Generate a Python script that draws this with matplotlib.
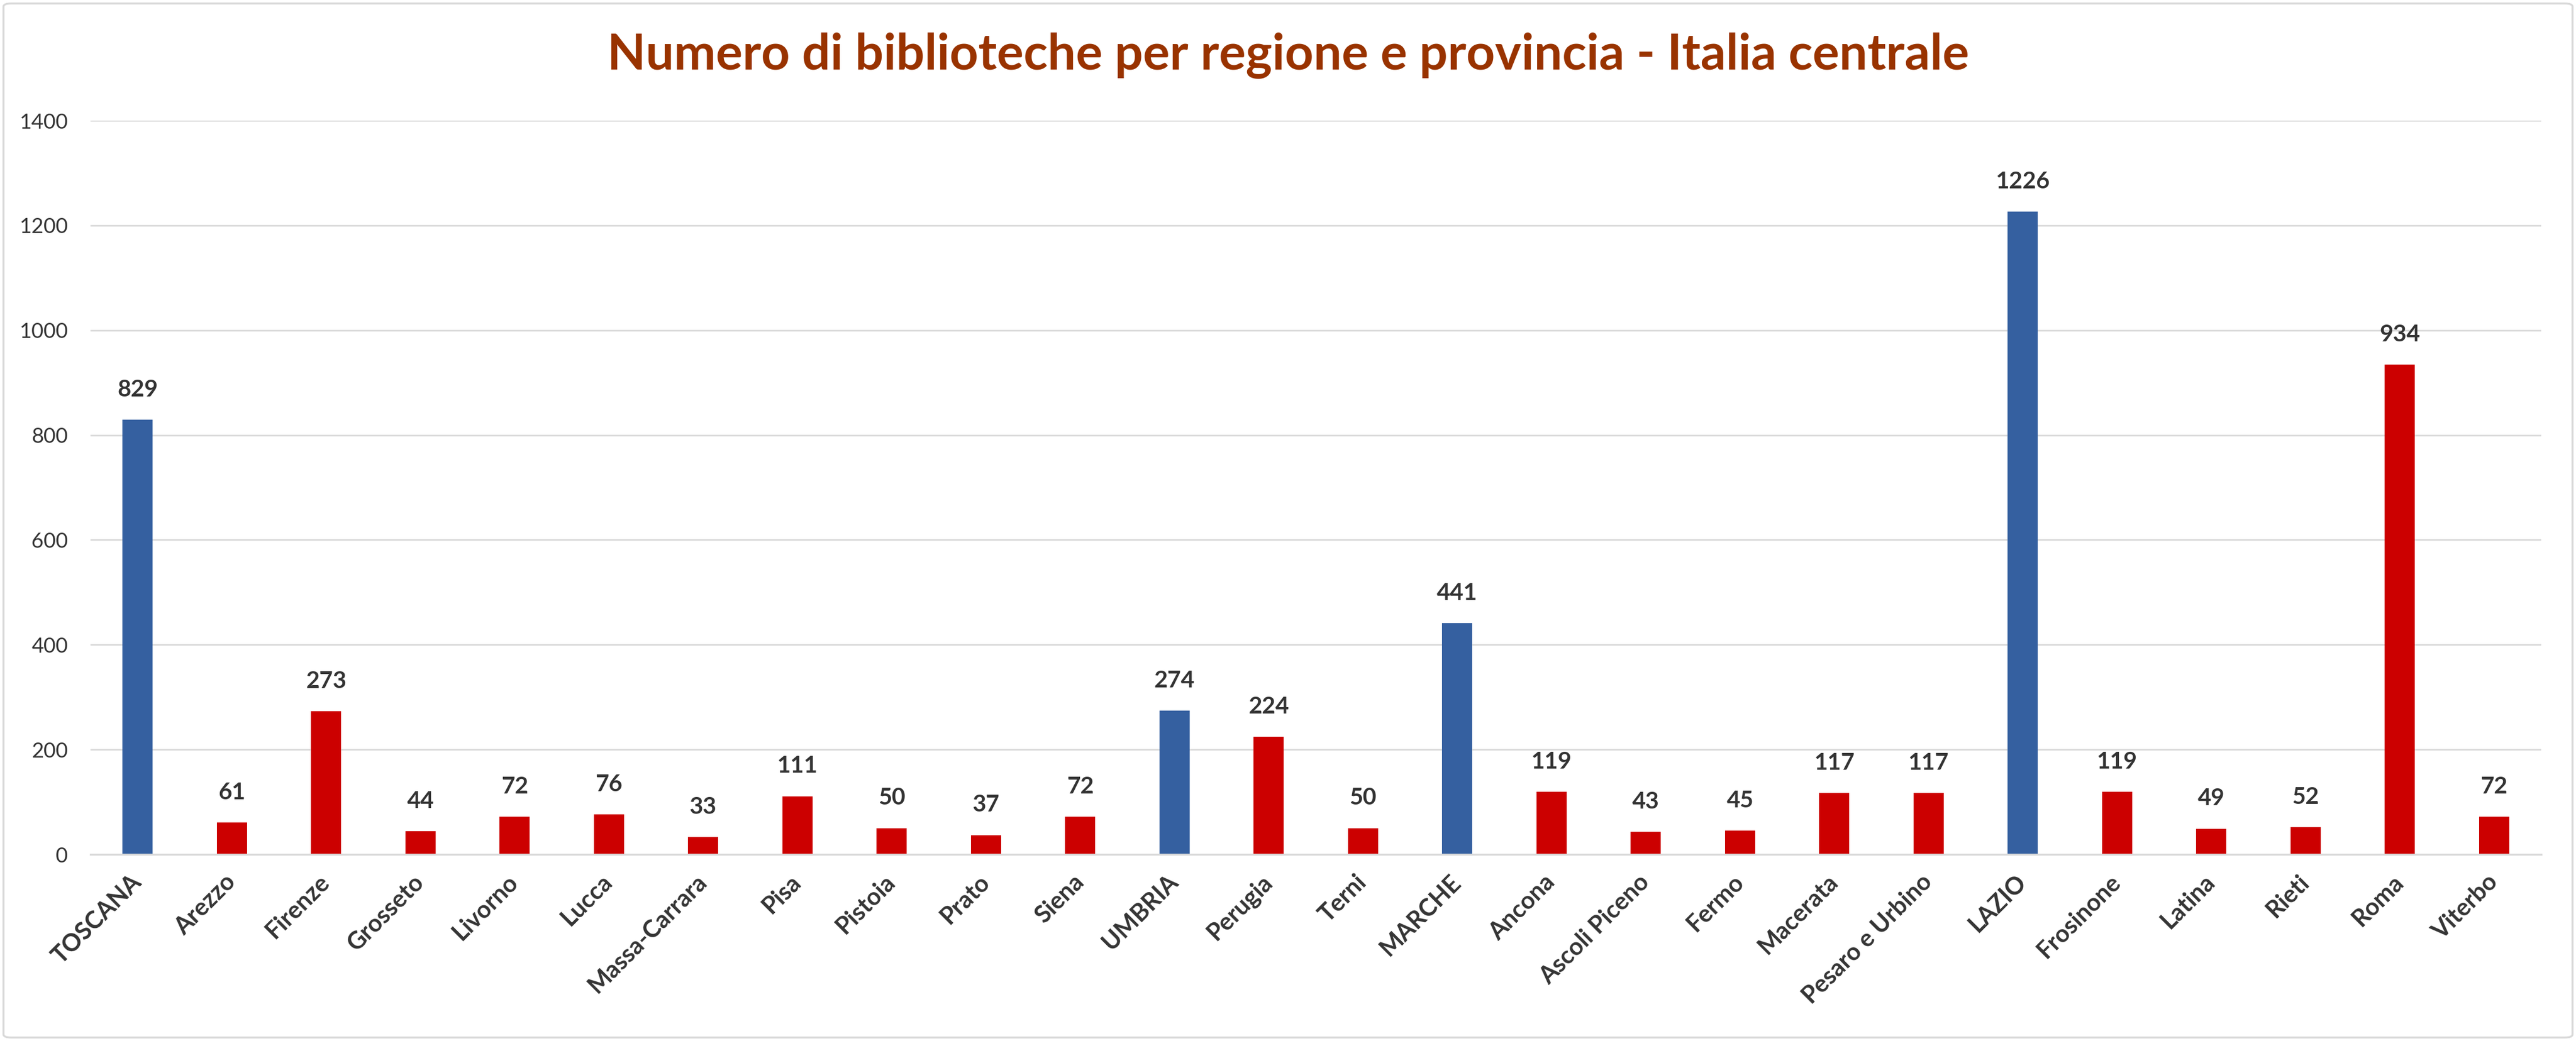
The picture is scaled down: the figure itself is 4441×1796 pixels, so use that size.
import matplotlib
matplotlib.use("Agg")
import matplotlib.pyplot as plt
from matplotlib.patches import FancyBboxPatch

categories = ["TOSCANA", "Arezzo", "Firenze", "Grosseto", "Livorno", "Lucca",
              "Massa-Carrara", "Pisa", "Pistoia", "Prato", "Siena",
              "UMBRIA", "Perugia", "Terni",
              "MARCHE", "Ancona", "Ascoli Piceno", "Fermo", "Macerata", "Pesaro e Urbino",
              "LAZIO", "Frosinone", "Latina", "Rieti", "Roma", "Viterbo"]
values = [829, 61, 273, 44, 72, 76, 33, 111, 50, 37, 72,
          274, 224, 50,
          441, 119, 43, 45, 117, 117,
          1226, 119, 49, 52, 934, 72]
regions = ["TOSCANA", "UMBRIA", "MARCHE", "LAZIO"]
yticks = [0, 200, 400, 600, 800, 1000, 1200, 1400]
title = "Numero di biblioteche per regione e provincia - Italia centrale"

BLUE = "#3560A0"
RED = "#CC0000"
TXT = "#333333"
GRID = "#D9D9D9"

plt.rcParams['font.family'] = ['Lato', 'DejaVu Sans']

W, H, DPI = 4441, 1796, 200
fig = plt.figure(figsize=(W / DPI, H / DPI), dpi=DPI)
ax = fig.add_axes([156 / W, 1 - 1474 / H, (4381 - 156) / W, (1474 - 208) / H])

colors = [BLUE if c in regions else RED for c in categories]
x = list(range(len(categories)))
bars = ax.bar(x, values, width=0.32, color=colors, zorder=3)

ax.set_xlim(-0.5, len(categories) - 0.5)
ax.set_ylim(0, 1400)
ax.set_yticks(yticks)
ax.set_yticklabels([str(v) for v in yticks], fontsize=13, color=TXT)
ax.tick_params(axis='y', length=0, pad=14)
ax.set_xticks(x)
ax.set_xticklabels(categories, rotation=45, ha='right', va='center',
                   rotation_mode='anchor', fontsize=15, fontweight='bold', color=TXT)
ax.tick_params(axis='x', length=0, pad=15)

ax.grid(axis='y', color=GRID, linewidth=1.0, zorder=0)
ax.set_axisbelow(True)
for s in ['top', 'right', 'left']:
    ax.spines[s].set_visible(False)
ax.spines['bottom'].set_color(GRID)
ax.spines['bottom'].set_linewidth(1.2)
ax.spines['bottom'].set_zorder(4)

for b, v in zip(bars, values):
    ax.annotate(str(v), (b.get_x() + b.get_width() / 2, v), xytext=(0, 12),
                textcoords='offset points', ha='center', va='bottom',
                fontsize=14.5, fontweight='bold', color=TXT)

fig.text(0.5, 1 - 96 / H, title, ha='center', va='center', fontsize=31,
         fontweight='bold', color='#993300')

border = FancyBboxPatch((6 / W, 6 / H), (W - 12) / W, (H - 12) / H,
                        boxstyle="round,pad=0,rounding_size=0.003",
                        transform=fig.transFigure, fill=False,
                        edgecolor=GRID, linewidth=1.2)
fig.patches.append(border)

fig.savefig("out.png", dpi=DPI, facecolor='white')
